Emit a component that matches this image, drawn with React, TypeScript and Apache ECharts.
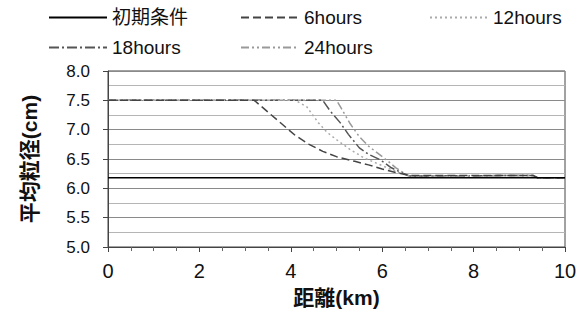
import React, { useEffect, useRef } from "react";
import * as echarts from "echarts";

const seriesNames = ["初期条件", "6hours", "12hours", "18hours", "24hours"];

const initX = [0, 10];
const initY = [6.18, 6.18];

const h6X = [0, 3.2, 3.5, 3.8, 4.1, 4.4, 4.7, 5.0, 5.4, 5.7, 6.0, 6.3, 6.6, 9.3, 9.4, 10];
const h6Y = [7.5, 7.5, 7.3, 7.1, 6.9, 6.75, 6.63, 6.54, 6.46, 6.4, 6.33, 6.27, 6.22, 6.22, 6.18, 6.18];

const h12X = [0, 4.1, 4.35, 4.6, 4.8, 5.0, 5.3, 5.6, 5.9, 6.2, 6.5, 6.6, 9.3, 9.4, 10];
const h12Y = [7.5, 7.5, 7.39, 7.12, 6.95, 6.83, 6.66, 6.52, 6.42, 6.32, 6.23, 6.21, 6.22, 6.18, 6.18];

const h18X = [0, 4.7, 4.86, 5.08, 5.26, 5.5, 5.7, 5.95, 6.2, 6.5, 6.6, 9.3, 9.4, 10];
const h18Y = [7.5, 7.5, 7.32, 7.12, 6.92, 6.69, 6.58, 6.49, 6.35, 6.24, 6.21, 6.22, 6.18, 6.18];

const h24X = [0, 5.0, 5.1, 5.3, 5.5, 5.7, 5.9, 6.1, 6.3, 6.5, 6.6, 9.3, 9.4, 10];
const h24Y = [7.5, 7.5, 7.37, 7.1, 6.88, 6.72, 6.6, 6.48, 6.35, 6.25, 6.21, 6.22, 6.18, 6.18];

const xTicks = [0, 2, 4, 6, 8, 10];
const yTicks = [5.0, 5.5, 6.0, 6.5, 7.0, 7.5, 8.0];

const zip = (xs: number[], ys: number[]) => xs.map((x, i) => [x, ys[i]]);

const FONT = "'Liberation Sans', 'Noto Sans CJK JP', sans-serif";

export default function App() {
  const ref = useRef<HTMLDivElement>(null);
  useEffect(() => {
    if (!ref.current) return;
    const chart = echarts.init(ref.current, undefined, { renderer: "svg" });
    const styles = [
      { color: "#000000", type: "solid" as any, width: 1.5 },
      { color: "#444444", type: [8, 4] as any, width: 1.5 },
      { color: "#aaaaaa", type: [2, 3] as any, width: 1.5 },
      { color: "#555555", type: [10, 3, 2, 3] as any, width: 1.5 },
      { color: "#999999", type: [8, 3, 2, 3, 2, 3] as any, width: 1.5 },
    ];
    const datas = [zip(initX, initY), zip(h6X, h6Y), zip(h12X, h12Y), zip(h18X, h18Y), zip(h24X, h24Y)];
    const legendPos = [
      [48, 8],
      [240, 8],
      [429, 8],
      [48, 38],
      [240, 38],
    ];
    chart.setOption({
      animation: false,
      legend: seriesNames.map((n, i) => ({
        data: [n],
        left: legendPos[i][0],
        top: legendPos[i][1],
        itemWidth: 58,
        itemHeight: 12,
        padding: 0,
        itemStyle: { opacity: 0 },
        textStyle: { fontSize: 19, color: "#111", fontFamily: FONT },
      })),
      grid: {
        left: 108,
        right: 17,
        top: 71,
        bottom: 73,
        show: true,
        borderColor: "#444",
        borderWidth: 1,
      },
      xAxis: {
        type: "value",
        min: 0,
        max: 10,
        interval: 2,
        name: "距離(km)",
        nameLocation: "middle",
        nameGap: 40,
        nameTextStyle: { fontSize: 21, fontWeight: "bold", color: "#111", fontFamily: FONT },
        axisLine: { show: true, lineStyle: { color: "#444" } },
        axisTick: { show: true, length: 5, lineStyle: { color: "#444" } },
        minorTick: { show: true, splitNumber: 4, length: 4, lineStyle: { color: "#666" } },
        splitLine: { show: false },
        axisLabel: {
          fontSize: 20,
          color: "#111",
          margin: 14,
          fontFamily: FONT,
          formatter: (v: number) => (xTicks.includes(v) ? String(v) : ""),
        },
      },
      yAxis: {
        type: "value",
        min: 5,
        max: 8,
        interval: 0.5,
        name: "平均粒径(cm)",
        nameLocation: "middle",
        nameRotate: 90,
        nameGap: 68,
        nameTextStyle: { fontSize: 21, fontWeight: "bold", color: "#111", fontFamily: FONT },
        axisLine: { show: true, lineStyle: { color: "#444" } },
        axisTick: { show: true, length: 5, lineStyle: { color: "#444" } },
        splitLine: { show: true, lineStyle: { color: "#8a8a8a", width: 1 } },
        minorTick: { show: false, splitNumber: 2 },
        minorSplitLine: { show: true, lineStyle: { color: "#b5b5b5", width: 1 } },
        axisLabel: {
          fontSize: 17,
          color: "#111",
          margin: 18,
          fontFamily: FONT,
          formatter: (v: number) => (yTicks.some((t) => Math.abs(t - v) < 1e-6) ? v.toFixed(1) : ""),
        },
      },
      series: seriesNames.map((n, i) => ({
        name: n,
        type: "line",
        data: datas[i],
        symbol: "none",
        showSymbol: false,
        lineStyle: styles[i],
        itemStyle: { color: styles[i].color },
        z: 10 - i,
      })),
    });
    return () => chart.dispose();
  }, []);
  return (
    <div
      ref={ref}
      style={{ position: "fixed", left: 0, top: 0, width: 582, height: 320, background: "#fff" }}
    />
  );
}
